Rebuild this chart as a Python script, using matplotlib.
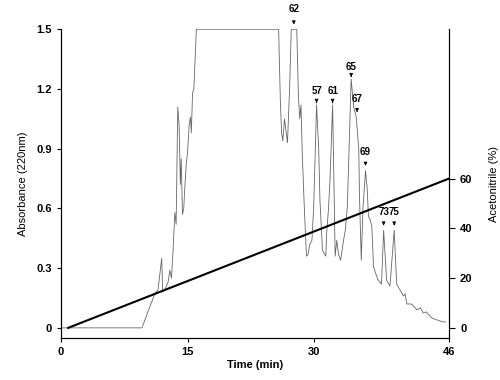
import matplotlib
matplotlib.use("Agg")
import matplotlib.pyplot as plt

plt.rcParams['font.family'] = ['Liberation Sans', 'DejaVu Sans']
plt.rcParams['font.weight'] = 'bold'

# chromatogram trace (time in min, absorbance at 220 nm)
time_min = [0, 9.6, 10.3, 11.15, 11.5, 11.94, 12.05, 12.4, 12.7, 12.9, 13.1, 13.3, 13.5,
            13.65, 13.84, 14.0, 14.15, 14.25, 14.4, 14.55, 14.7, 14.85, 15.0, 15.2, 15.35,
            15.45, 15.6, 15.75, 16.05, 25.8, 26.0, 26.15, 26.3, 26.5, 26.7, 26.85, 27.1,
            27.3, 27.95, 28.15, 28.3, 28.45, 28.6, 28.85, 29.1, 29.3, 29.5, 29.75, 29.95,
            30.3, 30.55, 30.7, 31.0, 31.4, 31.5, 31.7, 31.9, 32.2, 32.4, 32.5, 32.7, 32.9,
            33.15, 33.5, 33.7, 33.95, 34.4, 34.7, 35.0, 35.3, 35.4, 35.6, 35.8, 36.1, 36.3,
            36.45, 36.6, 36.85, 37.05, 37.25, 37.6, 38.0, 38.25, 38.6, 39.0, 39.5, 39.8,
            40.2, 40.6, 40.8, 41.0, 41.5, 41.8, 42.2, 42.6, 42.95, 43.3, 43.95, 44.55,
            45.3, 45.6]
absorbance = [0, 0, 0.08, 0.175, 0.19, 0.35, 0.18, 0.2, 0.23, 0.29, 0.25, 0.4, 0.58,
              0.52, 1.11, 1.02, 0.72, 0.85, 0.57, 0.6, 0.72, 0.82, 0.88, 1.02, 1.06,
              0.98, 1.18, 1.2, 1.5, 1.5, 1.15, 0.98, 0.94, 1.05, 0.98, 0.93, 1.2,
              1.5, 1.5, 1.16, 1.05, 1.12, 0.88, 0.6, 0.36, 0.37, 0.42, 0.44, 0.6,
              1.12, 0.9, 0.64, 0.39, 0.36, 0.48, 0.59, 0.75, 1.12, 0.63, 0.36, 0.44, 0.37,
              0.34, 0.44, 0.49, 0.61, 1.25, 1.11, 1.06, 0.9, 0.64, 0.34, 0.6, 0.79, 0.7,
              0.56, 0.55, 0.51, 0.31, 0.28, 0.24, 0.22, 0.49, 0.24, 0.21, 0.49, 0.22,
              0.19, 0.16, 0.17, 0.12, 0.12, 0.11, 0.09, 0.1, 0.075, 0.08, 0.05, 0.04,
              0.03, 0.03]

# acetonitrile gradient
grad_time = [0.85, 46]
grad_pct = [0, 60]

# fraction labels
peak_names = ['62', '57', '61', '65', '67', '69', '73', '75']
peak_time = [27.6, 30.3, 32.2, 34.4, 35.1, 36.1, 38.25, 39.5]
peak_top = [1.5, 1.12, 1.12, 1.25, 1.06, 0.79, 0.49, 0.49]
label_y = [1.6, 1.19, 1.19, 1.31, 1.15, 0.885, 0.58, 0.58]

fig = plt.figure(figsize=(5, 3.8), dpi=100)
ax = fig.add_axes([0.122, 0.111, 0.776, 0.812])
ax.plot(time_min, absorbance, color='0.4', lw=0.6)
ax.set_xlim(0, 46)
ax.set_ylim(-0.05, 1.5)
ax.set_xticks([0, 15, 30, 46])
ax.set_yticks([0, 0.3, 0.6, 0.9, 1.2, 1.5])
ax.set_yticklabels(['0', '0.3', '0.6', '0.9', '1.2', '1.5'])
ax.spines['top'].set_visible(False)
ax.tick_params(labelsize=8, length=3, width=0.8)
ax.set_xlabel('Time (min)', fontsize=8, fontweight='bold', labelpad=2)
ax.set_ylabel('Absorbance (220nm)', fontsize=8, fontweight='normal', labelpad=6)

for name, t, top, ly in zip(peak_names, peak_time, peak_top, label_y):
    ax.text(t, ly, name, fontsize=7, fontweight='bold', ha='center', va='center',
            clip_on=False)
    ax.annotate('', xy=(t, top + 0.01), xytext=(t, ly - 0.045),
                arrowprops=dict(arrowstyle='-|>', color='black', lw=0.6,
                                mutation_scale=5),
                annotation_clip=False)

ax2 = ax.twinx()
ax2.plot(grad_time, grad_pct, color='black', lw=1.5)
ax2.set_ylim(-0.05 * 80, 1.5 * 80)
ax2.set_yticks([0, 20, 40, 60])
ax2.spines['top'].set_visible(False)
ax2.tick_params(labelsize=8, length=4, width=0.8, pad=4)
ax2.set_ylabel('Acetonitrile (%)', fontsize=8, fontweight='normal', labelpad=12)

fig.savefig('out.png', dpi=100)
